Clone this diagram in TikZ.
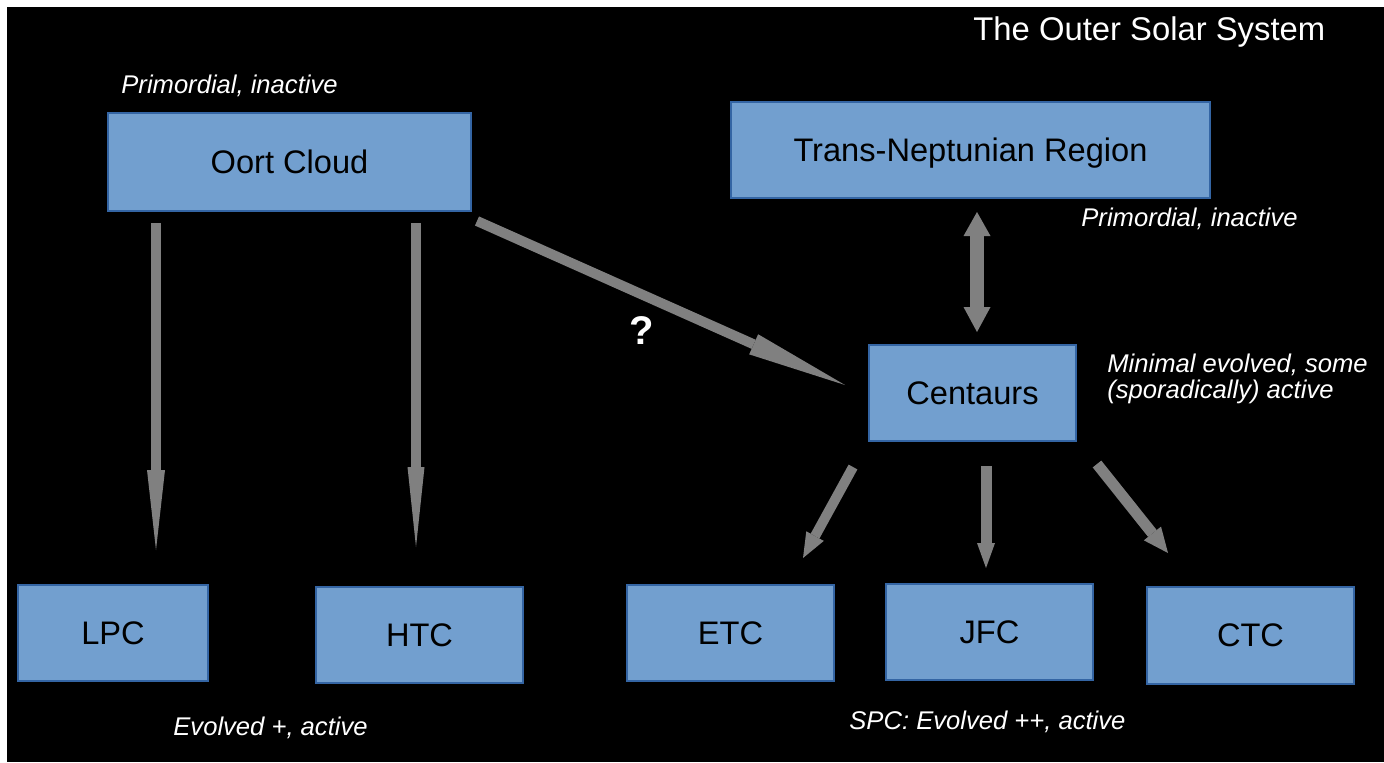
\documentclass[tikz,border=0pt]{standalone}
\usepackage{fontspec}
\setmainfont{Liberation Sans}
\usetikzlibrary{arrows.meta}
\definecolor{boxblue}{RGB}{114,159,207}
\definecolor{boxedge}{RGB}{52,101,164}
\definecolor{arrowgray}{RGB}{128,128,128}
\begin{document}
\begin{tikzpicture}[x=0.5pt,y=-0.5pt,
  box/.style={fill=boxblue, draw=boxedge, line width=0.6pt, minimum height=48pt, inner sep=0pt, text depth=0pt, text=black, font=\fontsize{16.3}{19}\selectfont},
  lbl/.style={text=white, inner sep=0pt, anchor=base west, font=\fontsize{12.8}{13}\selectfont\itshape},
  garrow/.style={draw=arrowgray, line cap=butt}
]
\useasboundingbox (0,0) rectangle (1384,762);
\fill[white] (0,0) rectangle (1384,762);
\fill[black] (7,7) rectangle (1384,762);

% boxes
\node[box, minimum width=181.5pt, minimum height=49pt] (oort) at (289.5,162) {Oort Cloud};
\node[box, minimum width=239.5pt] (tnr) at (970.5,150) {Trans-Neptunian Region};
\node[box, minimum width=103.5pt] (cen) at (972.5,393) {Centaurs};
\node[box, minimum width=95pt] (lpc) at (113,633) {LPC};
\node[box, minimum width=103.5pt] (htc) at (419.5,635) {HTC};
\node[box, minimum width=103.5pt] (etc) at (730.5,633) {ETC};
\node[box, minimum width=103.5pt] (jfc) at (989.5,632) {JFC};
\node[box, minimum width=103.5pt, minimum height=48.5pt] (ctc) at (1250.5,635.5) {CTC};

% labels
\node[text=white, inner sep=0pt, anchor=base west, font=\fontsize{16.4}{19}\selectfont] (title) at (973,40) {The Outer Solar System};
\node[lbl] (l1) at (121,93) {Primordial, inactive};
\node[lbl] (l2) at (1081,226) {Primordial, inactive};
\node[lbl] (l3) at (1107,372) {Minimal evolved, some};
\node[lbl] (l4) at (1107,398) {(sporadically) active};
\node[lbl] (l5) at (173,735) {Evolved +, active};
\node[lbl] (l6) at (849,729) {SPC: Evolved ++, active};
\node[text=white, inner sep=0pt, font=\fontsize{20}{22}\selectfont\bfseries] (q) at (642,331) {?};

% arrow end points
\coordinate (a1s) at (156,223);  \coordinate (a1e) at (156,550);
\coordinate (a2s) at (416,223);  \coordinate (a2e) at (416,547);
\coordinate (a3s) at (477,221);  \coordinate (a3e) at (845,385);
\coordinate (a4s) at (977,212);  \coordinate (a4e) at (977,332);
\coordinate (a5s) at (853,467);  \coordinate (a5e) at (803,558);
\coordinate (a6s) at (986,466);  \coordinate (a6e) at (986,568);
\coordinate (a7s) at (1097,464); \coordinate (a7e) at (1168,553);

\draw[garrow, line width=5pt, -{Triangle[length=40pt,width=9pt,line width=0pt]}] (a1s) -- (a1e);
\draw[garrow, line width=5pt, -{Triangle[length=40pt,width=8.5pt,line width=0pt]}] (a2s) -- (a2e);
\draw[garrow, line width=5pt, -{Triangle[length=50pt,width=11pt,line width=0pt]}] (a3s) -- (a3e);
\draw[garrow, line width=7pt, {Triangle[length=12pt,width=13.5pt,line width=0pt]}-{Triangle[length=12.5pt,width=13.5pt,line width=0pt]}] (a4s) -- (a4e);
\draw[garrow, line width=5pt, -{Triangle[length=12.5pt,width=10pt,line width=0pt]}] (a5s) -- (a5e);
\draw[garrow, line width=5.5pt, -{Triangle[length=12.5pt,width=9pt,line width=0pt]}] (a6s) -- (a6e);
\draw[garrow, line width=5.5pt, -{Triangle[length=12.5pt,width=11pt,line width=0pt]}] (a7s) -- (a7e);
\end{tikzpicture}
\end{document}
